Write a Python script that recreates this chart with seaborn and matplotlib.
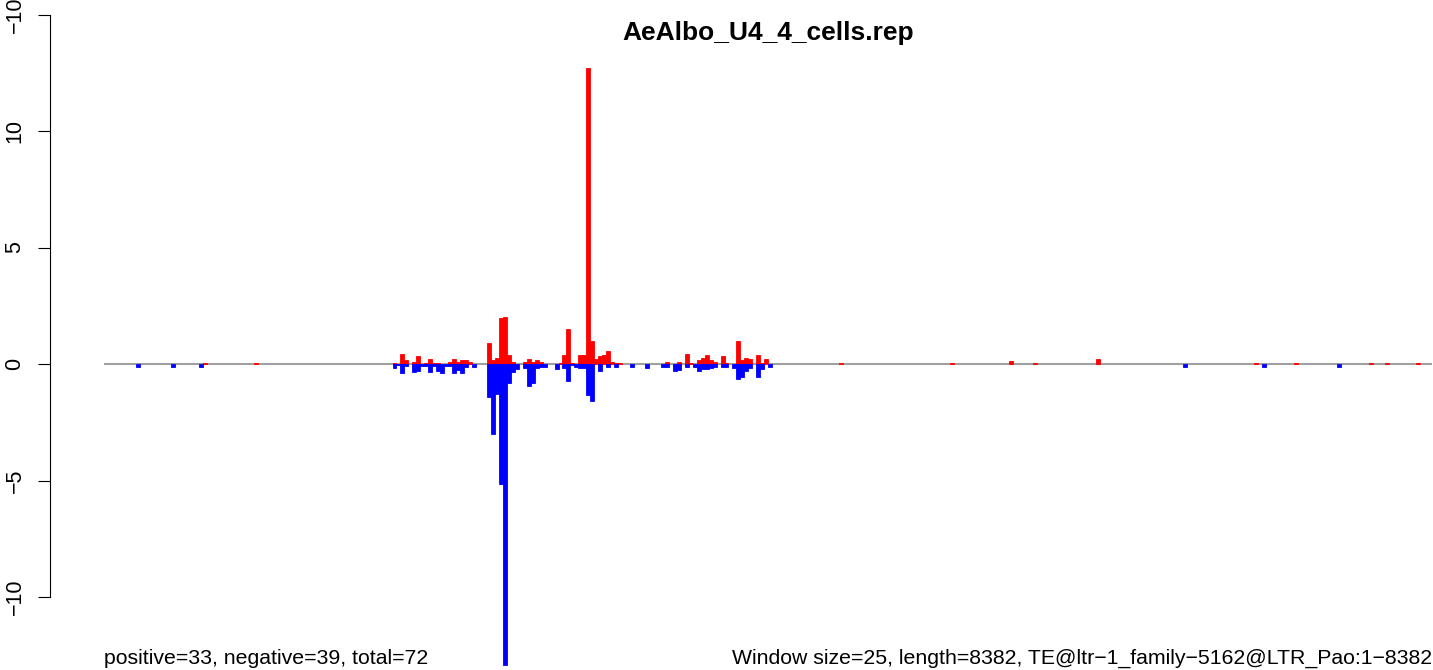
import numpy as np
import pandas as pd
import seaborn as sns
import matplotlib
matplotlib.use("Agg")
import matplotlib.pyplot as plt

# windows of 25 bp over a 8382 bp element
n_bins = 336

pos_bins = [25, 38, 73, 75, 76, 78, 79, 81, 82, 83, 84, 87, 88, 89, 90, 91, 92,
            97, 98, 99, 100, 101, 102, 103, 106, 107, 108, 109, 110, 115, 116,
            117, 118, 120, 121, 122, 123, 124, 125, 126, 127, 128, 129, 130,
            142, 145, 147, 148, 150, 151, 152, 153, 154, 156, 157, 160, 161,
            162, 163, 165, 166, 167, 186, 214, 229, 235, 251, 291, 301, 320,
            324, 332]
pos_vals = [0.04, 0.04, 0.04, 0.43, 0.17, 0.09, 0.34, 0.04, 0.21, 0.04, 0.04,
            0.09, 0.21, 0.09, 0.17, 0.17, 0.09,
            0.9, 0.17, 0.26, 1.97, 2.03, 0.39, 0.09, 0.09, 0.21, 0.09, 0.17,
            0.09, 0.04, 0.39, 1.5, 0.04, 0.39, 0.39, 12.69, 0.99, 0.21, 0.34,
            0.39, 0.56, 0.09, 0.04, 0.04,
            0.09, 0.09, 0.43, 0.04, 0.17, 0.26, 0.39, 0.17, 0.09, 0.34, 0.04,
            0.99, 0.17, 0.26, 0.21, 0.39, 0.04, 0.21, 0.04, 0.04, 0.11, 0.04,
            0.2, 0.04, 0.04, 0.04, 0.04, 0.04]

neg_bins = [8, 17, 24, 73, 74, 75, 76, 78, 79, 80, 81, 82, 83, 84, 85, 86, 87,
            88, 89, 90, 91, 93, 97, 98, 99, 100, 101, 102, 103, 104, 106, 107,
            108, 109, 110, 111, 114, 116, 117, 118, 119, 120, 121, 122, 123,
            125, 127, 129, 133, 137, 141, 142, 144, 145, 147, 149, 150, 151,
            152, 153, 154, 156, 157, 159, 160, 161, 162, 163, 165, 166, 168,
            273, 293, 312]
neg_vals = [-0.11, -0.11, -0.11, -0.16, -0.06, -0.37, -0.09, -0.34, -0.29,
            -0.09, -0.09, -0.34, -0.09, -0.29, -0.37, -0.09, -0.09, -0.37,
            -0.26, -0.37, -0.14, -0.11, -1.42, -2.99, -1.27, -5.13, -12.93,
            -0.8, -0.33, -0.21, -0.16, -0.93, -0.8, -0.16, -0.11, -0.11, -0.21,
            -0.16, -0.71, -0.04, -0.11, -0.16, -0.16, -1.31, -1.57, -0.29,
            -0.11, -0.11, -0.11, -0.16, -0.11, -0.11, -0.31, -0.26, -0.11,
            -0.14, -0.29, -0.2, -0.2, -0.16, -0.11, -0.11, -0.11, -0.16, -0.63,
            -0.54, -0.29, -0.16, -0.54, -0.2, -0.11, -0.11, -0.11, -0.11]

title = "AeAlbo_U4_4_cells.rep"
left_note = "positive=33, negative=39, total=72"
right_note = "Window size=25, length=8382, TE@ltr\u22121_family\u22125162@LTR_Pao:1\u22128382"
ytick_pos = [-10, -5, 0, 5, 10, 15]
ytick_labels = ["\u221210", "\u22125", "0", "5", "10", "\u221210"]

pos_df = pd.DataFrame({"bin": pos_bins, "value": pos_vals})
neg_df = pd.DataFrame({"bin": neg_bins, "value": neg_vals})

sns.set_theme(style="white")
plt.rcParams["font.family"] = ["Liberation Sans", "DejaVu Sans"]
plt.rcParams["text.color"] = "black"

W, H = 1433, 670
fig = plt.figure(figsize=(W / 100, H / 100), dpi=100)
ax = fig.add_axes([0, 0, 1, 1])
ax.patch.set_alpha(0)

order = list(range(n_bins))
for data, colour in ((pos_df, "#ff0000"), (neg_df, "#0000ff")):
    sns.barplot(data=data, x="bin", y="value", order=order, color=colour,
                saturation=1, width=1, edgecolor=colour, linewidth=0.6,
                errorbar=None, ax=ax)

ax.hlines(0, -0.5, n_bins - 0.5, color="#a0a0a0", linewidth=1.5, zorder=0.5)

# pixel layout of the R device
bar_px = (1432 - 104) / n_bins
unit_px = (364 - 131) / 10
ax.set_xlim(-0.5 - 104 / bar_px, -0.5 + (W - 104) / bar_px)
ax.set_ylim(-(H - 364) / unit_px, 364 / unit_px)

for s in ("top", "right", "bottom"):
    ax.spines[s].set_visible(False)
ax.spines["left"].set_position(("data", -0.5 - (104 - 50) / bar_px))
ax.spines["left"].set_bounds(-10, 15)
ax.spines["left"].set_color("black")
ax.spines["left"].set_linewidth(0.8)
ax.set_xticks([])
ax.set_yticks(ytick_pos, ytick_labels, rotation=90, va="center")
ax.tick_params(axis="y", left=True, length=8.6, width=0.8, color="black",
               pad=9, labelsize=15.5, labelcolor="black")
ax.set_xlabel("")
ax.set_ylabel("")

fig.text(768 / W, 1 - 33 / H, title, ha="center", va="center",
         fontsize=19, fontweight="bold", color="black")
fig.text(104 / W, 1 - 658 / H, left_note, ha="left", va="center",
         fontsize=15.3, color="black")
fig.text(1432 / W, 1 - 658 / H, right_note, ha="right", va="center",
         fontsize=15.3, color="black")

fig.savefig("out.png", dpi=100)
